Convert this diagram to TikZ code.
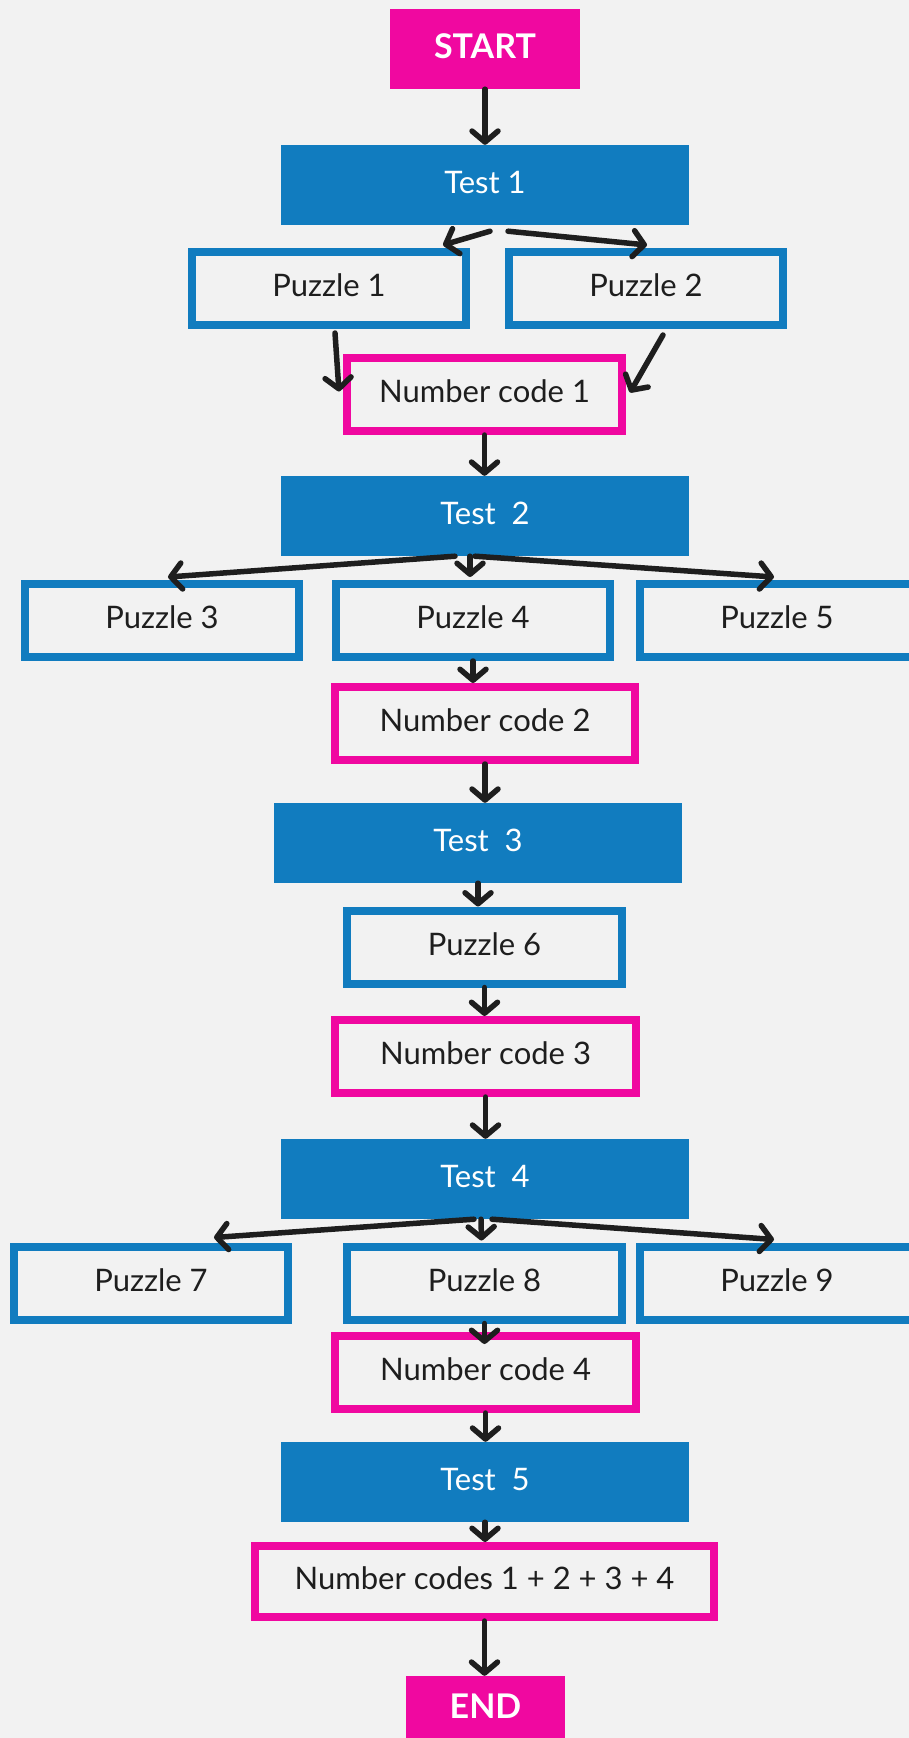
\documentclass[tikz,border=0pt]{standalone}
\usepackage{fontspec}
\setmainfont{Lato}
\usetikzlibrary{arrows.meta}
\definecolor{bg}{HTML}{F2F2F2}
\definecolor{tblue}{HTML}{117CBF}
\definecolor{tpink}{HTML}{F008A0}
\definecolor{ink}{HTML}{1E1E1E}
\begin{document}
\begin{tikzpicture}[x=1pt,y=-1pt,
    txt/.style={font=\fontsize{31pt}{37pt}\selectfont, inner sep=0pt, text depth=6pt},
    endbox/.style={txt, fill=tpink, text=white, font=\fontsize{34pt}{40pt}\selectfont\bfseries, minimum height=80pt},
    testbox/.style={txt, fill=tblue, text=white, minimum width=408pt, minimum height=80pt},
    puzbox/.style={txt, draw=tblue, line width=8pt, fill=bg, text=ink, minimum width=274pt, minimum height=73pt},
    codebox/.style={txt, draw=tpink, line width=8pt, fill=bg, text=ink, minimum width=300pt, minimum height=73pt},
    arr/.style={draw=ink, line width=5.5pt, line cap=round, -{Straight Barb[length=11pt,width=26pt,round]}}]
  \fill[bg] (0,0) rectangle (909,1738);
  \useasboundingbox (0,0) rectangle (909,1738);
  % boxes
  \node[endbox, minimum width=190pt] (start) at (485,49) {START};
  \node[testbox] (test1) at (485,185) {Test 1};
  \node[puzbox] (p1) at (329,288.5) {Puzzle 1};
  \node[puzbox] (p2) at (646,288.5) {Puzzle 2};
  \node[codebox, minimum width=275pt] (nc1) at (484.5,394.5) {Number code 1};
  \node[testbox] (test2) at (485,516) {Test~~2};
  \node[puzbox] (p3) at (162,620.5) {Puzzle 3};
  \node[puzbox] (p4) at (473,620.5) {Puzzle 4};
  \node[puzbox] (p5) at (777,620.5) {Puzzle 5};
  \node[codebox] (nc2) at (485,723.5) {Number code 2};
  \node[testbox] (test3) at (478,843) {Test~~3};
  \node[puzbox, minimum width=275pt] (p6) at (484.5,947) {Puzzle 6};
  \node[codebox, minimum width=301pt] (nc3) at (485.5,1056.5) {Number code 3};
  \node[testbox] (test4) at (485,1179) {Test~~4};
  \node[puzbox] (p7) at (151,1283) {Puzzle 7};
  \node[puzbox, minimum width=275pt] (p8) at (484.5,1283) {Puzzle 8};
  \node[puzbox] (p9) at (777,1283) {Puzzle 9};
  \node[codebox, minimum width=301pt] (nc4) at (485.5,1372.5) {Number code 4};
  \node[testbox] (test5) at (485,1482) {Test~~5};
  \node[codebox, minimum width=459pt, minimum height=71pt] (ncall) at (484.5,1581.5) {Number codes 1 + 2 + 3 + 4};
  \node[endbox, minimum width=159pt, minimum height=66pt] (end) at (485.5,1709) {END};
  % arrows
  \draw[arr] (start.south) -- (test1.north);
  \draw[arr] ([xshift=5pt,yshift=-6pt]test1.south) -- ([xshift=114pt,yshift=3pt]p1.north);
  \draw[arr] ([xshift=23pt,yshift=-6pt]test1.south) -- ([xshift=1pt,yshift=3pt]p2.north);
  \draw[arr] ([xshift=6pt,yshift=-4pt]p1.south) -- ([xshift=-4pt,yshift=3pt]nc1.west);
  \draw[arr] ([xshift=17pt,yshift=-6pt]p2.south) -- ([xshift=4pt,yshift=2pt]nc1.east);
  \draw[arr] (nc1.south) -- (nc1.south |- test2.north);
  \draw[arr] ([xshift=-30pt]test2.south) -- ([xshift=6pt,yshift=3pt]p3.north);
  \draw[arr] ([xshift=-15pt]test2.south) -- ([xshift=-3pt,yshift=3pt]p4.north);
  \draw[arr] ([xshift=-10pt]test2.south) -- ([xshift=-3pt,yshift=3pt]p5.north);
  \draw[arr] (p4.south) -- (p4.south |- nc2.north);
  \draw[arr] (nc2.south) -- (nc2.south |- test3.north);
  \draw[arr] (test3.south) -- (test3.south |- p6.north);
  \draw[arr] (p6.south) -- (p6.south |- nc3.north);
  \draw[arr] (nc3.south) -- (nc3.south |- test4.north);
  \draw[arr] ([xshift=-11pt]test4.south) -- ([xshift=63pt,yshift=5pt]p7.north);
  \draw[arr] ([xshift=-4pt]test4.south) -- ([xshift=-3pt,yshift=2pt]p8.north);
  \draw[arr] ([xshift=7pt]test4.south) -- ([xshift=-3pt,yshift=3pt]p9.north);
  \draw[arr] (p8.south) -- ([yshift=-12pt]p8.south |- nc4.north);
  \draw[arr] (nc4.south) -- (nc4.south |- test5.north);
  \draw[arr] (test5.south) -- (test5.south |- ncall.north);
  \draw[arr] (ncall.south) -- (ncall.south |- end.north);
\end{tikzpicture}
\end{document}
